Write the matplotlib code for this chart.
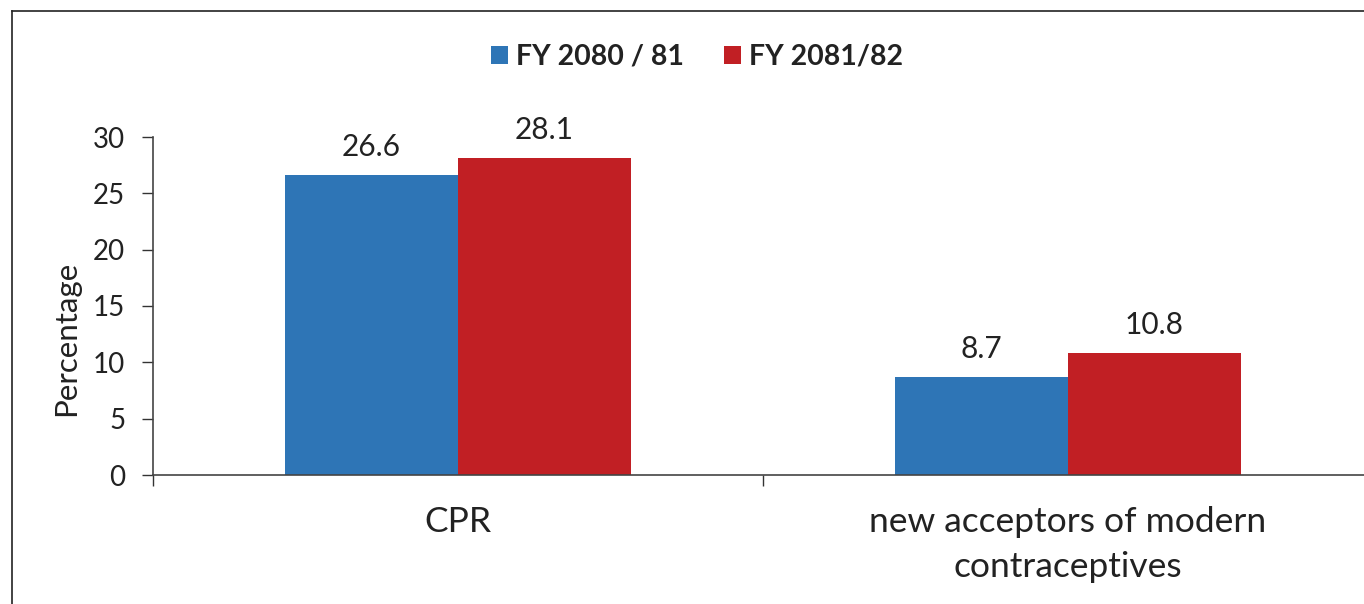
import matplotlib
matplotlib.use("Agg")
import matplotlib.pyplot as plt
from matplotlib.lines import Line2D
import numpy as np

categories = ["CPR", "new acceptors of modern\ncontraceptives"]
series_names = ["FY 2080 / 81", "FY 2081/82"]
values_2080 = [26.6, 8.7]
values_2081 = [28.1, 10.8]
yticks = [0, 5, 10, 15, 20, 25, 30]

colors = ["#2E75B6", "#C11F24"]

plt.rcParams['font.family'] = ['Lato', 'DejaVu Sans']

W, H = 1364, 604
fig = plt.figure(figsize=(W / 100, H / 100), dpi=100)
fig.patch.set_facecolor("white")

ax = fig.add_axes([153 / W, 129 / H, 1220 / W, 338 / H])

x = np.arange(len(categories))
bw = 0.2836
b1 = ax.bar(x - bw / 2, values_2080, bw, color=colors[0], label=series_names[0])
b2 = ax.bar(x + bw / 2, values_2081, bw, color=colors[1], label=series_names[1])

for bars, vals in ((b1, values_2080), (b2, values_2081)):
    for rect, v in zip(bars, vals):
        ax.annotate(f"{v}", (rect.get_x() + rect.get_width() / 2, v),
                    xytext=(0, 14), textcoords="offset points",
                    ha="center", va="baseline", fontsize=21.5, color="#222222")

ax.set_xlim(-0.5, 1.5)
ax.set_ylim(0, 30)
ax.set_yticks(yticks)
ax.set_yticklabels([str(t) for t in yticks])
ax.tick_params(axis="y", length=8, width=1.0, pad=12, labelsize=20, colors="#333333",
               labelcolor="#222222")

ax.set_xticks([-0.5, 0.5, 1.5])
ax.set_xticklabels([])
ax.tick_params(axis="x", which="major", length=8, width=1.0, direction="out", colors="#333333")
ax.set_xticks(x, minor=True)
ax.set_xticklabels(categories, minor=True, fontsize=25.5, linespacing=1.52, color="#222222")
ax.tick_params(axis="x", which="minor", length=0, pad=22)

for s in ("top", "right"):
    ax.spines[s].set_visible(False)
for s in ("left", "bottom"):
    ax.spines[s].set_color("#444444")
    ax.spines[s].set_linewidth(1.2)

fig.text(66 / W, 1 - 338 / H, "Percentage", rotation=90, ha="center", va="center",
         fontsize=22.5, color="#222222")

leg = fig.legend(handles=[b1, b2], labels=series_names, loc="center",
                 bbox_to_anchor=(697 / W, 1 - 57 / H), ncol=2, frameon=False,
                 handlelength=0.6, handleheight=0.6, handletextpad=0.3,
                 columnspacing=1.4, prop={"weight": "bold", "size": 20.5})
for t in leg.get_texts():
    t.set_color("#222222")

# outer frame (left and top edges visible)
fig.add_artist(Line2D([12 / W, 12 / W], [0, 1 - 11 / H], transform=fig.transFigure,
                      color="#222222", linewidth=1.2))
fig.add_artist(Line2D([12 / W, 1], [1 - 11 / H, 1 - 11 / H], transform=fig.transFigure,
                      color="#222222", linewidth=1.2))

fig.savefig("out.png", dpi=100, facecolor="white")
